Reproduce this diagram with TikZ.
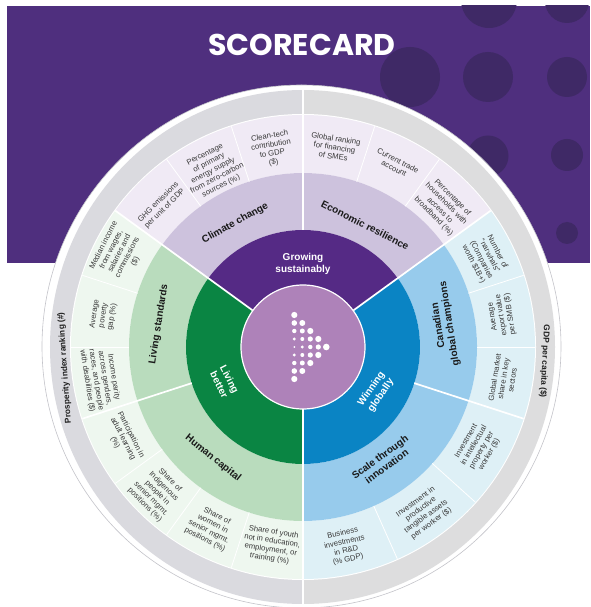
\documentclass[tikz,border=0pt]{standalone}
\usepackage{fontspec}
\setmainfont{Liberation Sans}
\newfontfamily\titlefont{Poppins}
\definecolor{bannerc}{HTML}{4F2F7E}
\definecolor{dotc}{HTML}{3F2966}
\definecolor{ringL}{HTML}{DADADF}
\definecolor{ringR}{HTML}{DDDDDE}
\definecolor{edgec}{HTML}{C4C4CA}
\definecolor{purA}{HTML}{552A85}
\definecolor{purB}{HTML}{CDC2DD}
\definecolor{purC}{HTML}{F0EAF5}
\definecolor{grnA}{HTML}{0A8543}
\definecolor{grnB}{HTML}{B9DCBD}
\definecolor{grnC}{HTML}{EEF7EF}
\definecolor{bluA}{HTML}{0A84C4}
\definecolor{bluB}{HTML}{97CBEC}
\definecolor{bluC}{HTML}{DEF0F6}
\definecolor{hubc}{HTML}{AE82B9}
\newcommand{\sectorfill}[5]{\fill[#5] (#3:#1) arc[start angle=#3,end angle=#4,radius=#1] -- (#4:#2) arc[start angle=#4,end angle=#3,radius=#2] -- cycle;}
\tikzset{
 x=1pt,y=1pt,
 sepline/.style={draw=white,line width=1.2pt},
 septhick/.style={draw=white,line width=1.7pt},
 celltext/.style={align=center,text=black!78,inner sep=0pt,font=\fontsize{7.7}{8.9}\selectfont},
 midtext/.style={align=center,text=black!90,inner sep=0pt,font=\fontsize{10}{11.4}\selectfont\bfseries},
 coretext/.style={align=center,text=white,inner sep=0pt,font=\fontsize{10}{11.6}\selectfont\bfseries},
 ringtext/.style={align=center,text=black!88,inner sep=0pt,font=\fontsize{8.4}{9}\selectfont\bfseries},
 bgdot/.style={fill=dotc},
 hubdot/.style={fill=white}
}
\begin{document}
\begin{tikzpicture}
\useasboundingbox (-303,-260) rectangle (287,347);
\fill[white] (-303,-260) rectangle (287,347);
% banner (page y 6..263, x from 7)
\fill[bannerc] (-296,84) rectangle (287,341);
\begin{scope}
\clip (-296,84) rectangle (287,341);
\fill[bgdot] (186,347) circle (28);
\fill[bgdot] (264,346) circle (22);
\fill[bgdot] (107,270) circle (30);
\fill[bgdot] (185,270) circle (25);
\fill[bgdot] (264,270) circle (20);
\fill[bgdot] (185,191) circle (20.5);
\fill[bgdot] (264,192) circle (16);
\fill[bgdot] (264,114) circle (11);
\end{scope}
\node[text=white,inner sep=0pt,font=\titlefont\fontsize{30}{34}\selectfont\bfseries] (title) at (-1,302) {SCORECARD};
% wheel: slightly flattened outer rings as in the reference
\fill[white,draw=edgec,line width=.6pt] (-1.5,0.5) ellipse [x radius=259.5,y radius=261.5];
\fill[ringL] (0,257) arc[start angle=90,end angle=270,x radius=253,y radius=257] -- cycle;
\fill[ringR] (0,-257) arc[start angle=-90,end angle=90,x radius=252,y radius=257] -- cycle;
\draw[septhick] (90:233) -- (90:258);
\draw[septhick] (-90:233) -- (-90:258);
\fill[white] (0,0) circle (233);
% cells
\sectorfill{174}{232}{36}{144}{purC}
\sectorfill{174}{232}{144}{270}{grnC}
\sectorfill{174}{232}{-90}{36}{bluC}
% mid ring
\sectorfill{117}{174}{36}{144}{purB}
\sectorfill{117}{174}{144}{270}{grnB}
\sectorfill{117}{174}{-90}{36}{bluB}
% inner ring
\sectorfill{62}{117}{36}{144}{purA}
\sectorfill{62}{117}{144}{270}{grnA}
\sectorfill{62}{117}{-90}{36}{bluA}
% hub
\fill[hubc,draw=white,line width=1.2pt] (0,0) circle (62);
% cell separators
\foreach \a in {54,72,108,126,162,180,216,234,252} \draw[draw=white,line width=.8pt] (\a:174) -- (\a:232);
\foreach \a in {18,0,-42,-66} \draw[draw=white,line width=.8pt] (\a:174) -- (\a:232);
% sector separators
\draw[septhick] (144:62) -- (144:232);
\draw[septhick] (36:62) -- (36:232);
\draw[septhick] (198:117) -- (198:232);
\draw[septhick] (-18:117) -- (-18:232);
\draw[sepline] (90:117) -- (90:232);
\draw[sepline] (-90:62) -- (-90:232);
% hub arrow dots
\foreach \r/\c/\s in {4/0/3.1,3/0/2.8,2/0/2.2,1/0/1.6,0/0/1,-1/0/1.6,-2/0/2.2,-3/0/2.8,-4/0/3.1,
  3/1/3,2/1/2.5,1/1/2,0/1/1.6,-1/1/2,-2/1/2.5,-3/1/3,
  2/2/3.1,1/2/2.6,0/2/2.2,-1/2/2.6,-2/2/3.1,
  1/3/3.1,0/3/2.6,-1/3/3.1,
  0/4/3.3}
  \fill[hubdot] ({-8.7+8*\c},{8*\r}) circle (\s);
% ring labels
\node[ringtext,rotate=94] (ringleft) at (185:239) {Prosperity index ranking (\#)};
\node[ringtext,rotate=-93] (ringright) at (-3.4:242) {GDP per capita (\$)};
% core labels
\node[coretext,rotate=0] (coreA) at (0,83) {Growing\\sustainably};
\node[coretext,rotate=-63] (coreB) at (204:86) {Living\\better};
\node[coretext,rotate=55] (coreC) at (-31.6:86) {Winning\\globally};
% mid labels
\node[midtext,rotate=29] (midA) at (118.7:141) {Climate change};
\node[midtext,rotate=-27] (midB) at (63:137) {Economic resilience};
\node[midtext,rotate=99] (midC) at (9:143) {Canadian\\global champions};
\node[midtext,rotate=36] (midD) at (-55:140) {Scale through\\innovation};
\node[midtext,rotate=-39] (midE) at (231:143) {Human capital};
\node[midtext,rotate=81] (midF) at (171:146) {Living standards};
% cell labels
\node[celltext,rotate=45] (c1) at (135:200) {GHG emissions\\per unit of GDP};
\node[celltext,rotate=27] (c2) at (117:198) {Percentage\\of primary\\energy supply\\from zero-carbon\\sources (\%)};
\node[celltext,rotate=9] (c3) at (99:200) {Clean-tech\\contribution\\to GDP\\(\$)};
\node[celltext,rotate=-9] (c4) at (81:202) {Global ranking\\for financing\\of SMEs};
\node[celltext,rotate=-27] (c5) at (63:205) {Current trade\\account};
\node[celltext,rotate=-45] (c6) at (45:198) {Percentage of\\households with\\access to\\broadband (\%)};
\node[celltext,rotate=-63] (c7) at (26:203) {Number of\\``narwhals''\\(Companies\\worth \$1B+)};
\node[celltext,rotate=99] (c8) at (9:201) {Average\\export value\\per SMB (\$)};
\node[celltext,rotate=81] (c9) at (-9:203) {Global market\\share in key\\sectors};
\node[celltext,rotate=60] (c10) at (-30:202) {Investment\\in intellectual\\property per\\worker (\$)};
\node[celltext,rotate=36] (c11) at (-54:205) {Investment in\\productive\\tangible assets\\per worker (\$)};
\node[celltext,rotate=12] (c12) at (-78:204) {Business\\investments\\in R\&D\\(\% GDP)};
\node[celltext,rotate=-9] (c13) at (261:201) {Share of youth\\not in education,\\employment, or\\training (\%)};
\node[celltext,rotate=-27] (c14) at (243:203) {Share of\\women in\\senior mgmt.\\positions (\%)};
\node[celltext,rotate=-45] (c15) at (225:206) {Share of\\Indigenous\\people in\\senior mgmt.\\positions (\%)};
\node[celltext,rotate=-63] (c16) at (207:202) {Participation in\\adult learning\\(\%)};
\node[celltext,rotate=-81] (c17) at (189:205) {Income parity\\across genders,\\races, and people\\with disabilities (\$)};
\node[celltext,rotate=81] (c18) at (171:202) {Average\\poverty\\gap (\%)};
\node[celltext,rotate=63] (c19) at (153:206) {Median income\\from wages,\\salaries and\\commissions\\(\$)};
\end{tikzpicture}
\end{document}
